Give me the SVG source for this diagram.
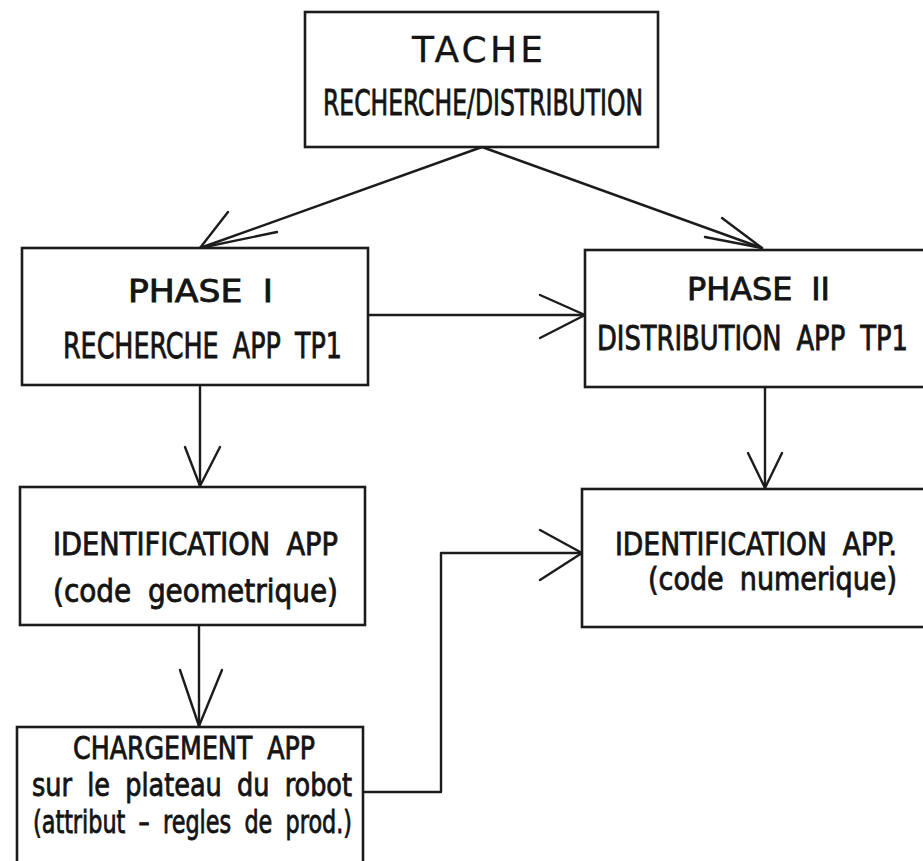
<svg xmlns="http://www.w3.org/2000/svg" width="923" height="861" viewBox="0 0 923 861">
  <style>
    .box { fill: #ffffff; stroke: #1c1c1c; stroke-width: 2.6; }
    .wire { fill: none; stroke: #1c1c1c; stroke-width: 2.4; stroke-linecap: round; stroke-linejoin: round; }
    .lbl { font-family: "DejaVu Sans Condensed", "DejaVu Sans", sans-serif; fill: #141414; stroke: #141414; stroke-width: 0.8; font-size: 32px; word-spacing: 8px; }
    .big { font-size: 36px; }
    .title { font-family: "DejaVu Sans", sans-serif; font-size: 36px; fill: #141414; stroke: #141414; stroke-width: 0.3; }
  </style>
  <rect x="0" y="0" width="923" height="861" fill="#ffffff"/>

  <!-- connectors: shafts and open V arrowheads -->
  <g id="connectors" class="wire">
    <!-- task to phase I -->
    <path d="M482 147 L200 248"/>
    <path d="M228 212 L200 248 L277 232"/>
    <!-- task to phase II -->
    <path d="M482 147 L762 248"/>
    <path d="M722 218 L762 248 L705 237"/>
    <!-- phase I to phase II -->
    <path d="M368 315 L585 315"/>
    <path d="M540 295 L585 315 L540 338"/>
    <!-- phase I to identification (geometric code) -->
    <path d="M200 385 L200 486"/>
    <path d="M185 447 L200 486 L220 447"/>
    <!-- phase II to identification (numeric code) -->
    <path d="M765 387 L765 488"/>
    <path d="M748 453 L765 488 L782 453"/>
    <!-- identification to loading -->
    <path d="M199 625 L199 726"/>
    <path d="M180 670 L199 726 L222 670"/>
    <!-- loading to numeric identification -->
    <path d="M363 792 L441 792 L441 553 L582 553"/>
    <path d="M540 530 L582 553 L540 580"/>
  </g>

  <g id="tache">
    <rect class="box" x="305" y="12" width="353" height="135"/>
    <text class="title" x="412" y="62" textLength="131" lengthAdjust="spacing">TACHE</text>
    <text class="lbl big" x="323" y="115" textLength="320" lengthAdjust="spacingAndGlyphs">RECHERCHE/DISTRIBUTION</text>
  </g>

  <g id="phase1">
    <rect class="box" x="22" y="248" width="346" height="137"/>
    <text class="lbl" x="128" y="302" textLength="145" lengthAdjust="spacingAndGlyphs">PHASE I</text>
    <text class="lbl big" x="63" y="358" textLength="279" lengthAdjust="spacingAndGlyphs">RECHERCHE APP TP1</text>
  </g>

  <g id="phase2">
    <rect class="box" x="585" y="250" width="360" height="137"/>
    <text class="lbl" x="687" y="300" textLength="143" lengthAdjust="spacingAndGlyphs">PHASE II</text>
    <!-- horizontally squeezed so the line keeps its height inside the box -->
    <text class="lbl" transform="translate(597 350) scale(0.76 1)" x="0" y="0" textLength="409" lengthAdjust="spacingAndGlyphs" style="font-size:34px">DISTRIBUTION APP TP1</text>
  </g>

  <g id="ident-geometrique">
    <rect class="box" x="20" y="487" width="345" height="138"/>
    <text class="lbl" x="53" y="555" textLength="285" lengthAdjust="spacingAndGlyphs">IDENTIFICATION APP</text>
    <text class="lbl" x="53" y="602" textLength="285" lengthAdjust="spacingAndGlyphs">(code geometrique)</text>
  </g>

  <g id="ident-numerique">
    <rect class="box" x="582" y="489" width="363" height="138"/>
    <text class="lbl" x="615" y="555" textLength="282" lengthAdjust="spacingAndGlyphs">IDENTIFICATION APP.</text>
    <text class="lbl" x="648" y="590" textLength="249" lengthAdjust="spacingAndGlyphs">(code numerique)</text>
  </g>

  <g id="chargement">
    <rect class="box" x="17" y="727" width="346" height="150"/>
    <text class="lbl" x="73" y="759" textLength="242" lengthAdjust="spacingAndGlyphs">CHARGEMENT APP</text>
    <text class="lbl" x="32" y="796" textLength="320" lengthAdjust="spacingAndGlyphs">sur le plateau du robot</text>
    <text class="lbl" x="33" y="833" textLength="319" lengthAdjust="spacingAndGlyphs">(attribut – regles de prod.)</text>
  </g>
</svg>
